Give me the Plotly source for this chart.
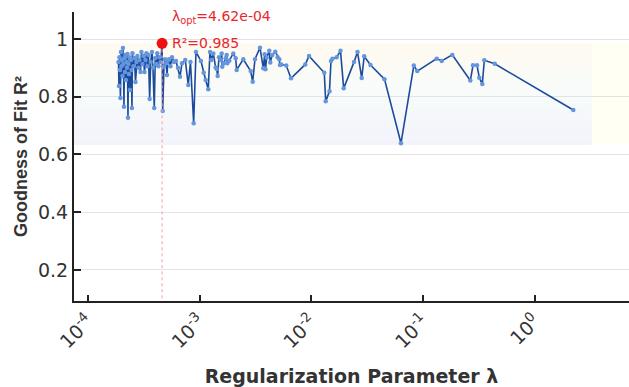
import plotly.graph_objects as go

lam = [1.880e-4, 1.898e-4, 1.918e-4, 1.938e-4, 1.958e-4, 1.978e-4, 1.999e-4, 2.020e-4, 2.041e-4, 2.062e-4,
       2.083e-4, 2.105e-4, 2.127e-4, 2.148e-4, 2.171e-4, 2.193e-4, 2.216e-4, 2.239e-4, 2.262e-4, 2.286e-4,
       2.309e-4, 2.333e-4, 2.357e-4, 2.382e-4, 2.432e-4, 2.457e-4, 2.482e-4, 2.508e-4, 2.560e-4, 2.614e-4,
       2.668e-4, 2.723e-4, 2.780e-4, 2.838e-4, 2.897e-4, 2.958e-4, 3.019e-4, 3.082e-4, 3.146e-4, 3.212e-4,
       3.279e-4, 3.347e-4, 3.417e-4, 3.488e-4, 3.575e-4, 3.649e-4, 3.749e-4, 3.826e-4, 3.930e-4, 4.012e-4,
       4.112e-4, 4.181e-4, 4.286e-4, 4.375e-4, 4.494e-4, 4.620e-4, 4.675e-4, 4.801e-4, 4.901e-4, 5.034e-4,
       5.107e-4, 5.213e-4, 5.322e-4, 5.489e-4, 5.662e-4, 5.900e-4, 6.149e-4, 6.408e-4, 6.678e-4, 6.959e-4,
       7.447e-4, 7.922e-4, 8.289e-4, 8.855e-4, 9.287e-4, 1.029e-3, 1.088e-3, 1.134e-3, 1.196e-3, 1.239e-3,
       1.273e-3, 1.327e-3, 1.394e-3, 1.423e-3, 1.452e-3, 1.492e-3, 1.545e-3, 1.577e-3, 1.597e-3, 1.654e-3,
       1.713e-3, 1.748e-3, 1.770e-3, 1.845e-3, 2.003e-3, 2.105e-3, 2.148e-3, 2.462e-3, 2.868e-3, 2.989e-3,
       3.133e-3, 3.474e-3, 3.718e-3, 3.827e-3, 3.890e-3, 3.988e-3, 4.207e-3, 4.295e-3, 4.477e-3, 4.762e-3,
       5.003e-3, 5.171e-3, 5.246e-3, 5.388e-3, 5.973e-3, 6.580e-3, 8.839e-3, 9.537e-3, 1.307e-2, 1.346e-2,
       1.455e-2, 1.501e-2, 1.548e-2, 1.689e-2, 1.826e-2, 1.950e-2, 2.412e-2, 2.593e-2, 2.827e-2, 2.976e-2,
       3.388e-2, 4.522e-2, 6.355e-2, 8.274e-2, 8.892e-2, 0.1327, 0.1471, 0.1829, 0.2652, 0.2804,
       0.3044, 0.3192, 0.3396, 0.3539, 0.4385, 2.216]

r2 = [0.920, 0.837, 0.937, 0.893, 0.796, 0.955, 0.906, 0.927, 0.872, 0.969,
      0.913, 0.765, 0.934, 0.886, 0.945, 0.858, 0.920, 0.900, 0.948, 0.727,
      0.913, 0.879, 0.937, 0.823, 0.927, 0.893, 0.761, 0.951, 0.906, 0.934,
      0.851, 0.920, 0.941, 0.900, 0.927, 0.886, 0.955, 0.913, 0.941, 0.886,
      0.927, 0.951, 0.906, 0.945, 0.792, 0.920, 0.955, 0.900, 0.761, 0.934,
      0.913, 0.951, 0.906, 0.937, 0.920, 0.985, 0.751, 0.904, 0.930, 0.916,
      0.875, 0.927, 0.930, 0.906, 0.937, 0.920, 0.924, 0.900, 0.869, 0.916,
      0.927, 0.841, 0.920, 0.708, 0.955, 0.924, 0.883, 0.858, 0.826, 0.955,
      0.927, 0.950, 0.901, 0.896, 0.872, 0.937, 0.927, 0.950, 0.904, 0.916,
      0.933, 0.945, 0.916, 0.925, 0.950, 0.933, 0.893, 0.930, 0.889, 0.852,
      0.930, 0.970, 0.899, 0.947, 0.895, 0.935, 0.959, 0.919, 0.945, 0.956,
      0.937, 0.930, 0.910, 0.912, 0.908, 0.864, 0.912, 0.941, 0.883, 0.784,
      0.819, 0.924, 0.932, 0.937, 0.959, 0.829, 0.920, 0.955, 0.865, 0.940,
      0.910, 0.861, 0.639, 0.908, 0.889, 0.932, 0.924, 0.945, 0.856, 0.909,
      0.909, 0.866, 0.844, 0.926, 0.914, 0.754]

lam_opt = 4.62e-4
r2_opt = 0.985

x_tickvals = [1e-4, 1e-3, 1e-2, 1e-1, 1e0]
x_ticktext = ["10<sup>-4</sup>", "10<sup>-3</sup>", "10<sup>-2</sup>", "10<sup>-1</sup>", "10<sup>0</sup>"]
y_tickvals = [0.2, 0.4, 0.6, 0.8, 1.0]
y_ticktext = ["0.2", "0.4", "0.6", "0.8", "1"]

ARIAL = "Arial, 'Liberation Sans', sans-serif"
WIDE = "'DejaVu Sans', Verdana, sans-serif"
y_lo, y_hi = 0.0926, 1.0935
band_lo, band_hi = 0.633, 0.985

fig = go.Figure()

fig.add_trace(go.Scatter(x=lam, y=r2, mode="lines+markers",
                         line=dict(color="#1c4b9c", width=1.6),
                         marker=dict(color="#6396de", size=4.5),
                         showlegend=False, hoverinfo="skip"))
fig.add_trace(go.Scatter(x=[lam_opt, lam_opt], y=[r2_opt, y_lo], mode="lines",
                         line=dict(color="#f4a0a0", width=1, dash="dot"),
                         showlegend=False, hoverinfo="skip"))
fig.add_trace(go.Scatter(x=[lam_opt], y=[r2_opt], mode="markers",
                         marker=dict(color="#ee1111", size=11),
                         showlegend=False, hoverinfo="skip"))

def lerp(c1, c2, t):
    return tuple(round(a + (b - a) * t) for a, b in zip(c1, c2))

top = (255, 250, 240)
mid = (247, 251, 250)
bot = (243, 243, 252)
n = 24
shapes = [dict(type="rect", xref="paper", yref="y", x0=0.933, x1=1.0, y0=band_lo, y1=band_hi,
               fillcolor="#fffff3", line=dict(width=0), layer="below")]
for i in range(n):
    t = i / (n - 1)
    c = lerp(top, mid, t * 2) if t < 0.5 else lerp(mid, bot, (t - 0.5) * 2)
    y1 = band_hi - (band_hi - band_lo) * i / n
    y0 = band_hi - (band_hi - band_lo) * (i + 1) / n
    shapes.append(dict(type="rect", xref="paper", yref="y", x0=0, x1=0.933, y0=y0, y1=y1,
                       fillcolor="rgb(%d,%d,%d)" % c, line=dict(width=0), layer="below"))

fig.update_layout(
    width=629, height=387,
    margin=dict(l=74, r=0, t=12, b=86),
    paper_bgcolor="white", plot_bgcolor="white",
    font=dict(family=WIDE, color="#333333"),
    shapes=shapes,
    xaxis=dict(type="log", range=[-4.124, 0.844],
               tickvals=x_tickvals, ticktext=x_ticktext, tickangle=-45,
               tickfont=dict(size=19, color="#333333", family=WIDE),
               ticks="inside", ticklen=6, tickwidth=2, tickcolor="#222222",
               showline=True, linecolor="#222222", linewidth=2,
               showgrid=False, zeroline=False,
               title=dict(text="<b>Regularization Parameter λ</b>",
                          font=dict(size=19, color="#333333", family=WIDE), standoff=20)),
    yaxis=dict(range=[y_lo, y_hi],
               tickvals=y_tickvals, ticktext=y_ticktext,
               tickfont=dict(size=19, color="#333333", family=WIDE),
               ticks="inside", ticklen=7, tickwidth=2, tickcolor="#222222",
               showline=True, linecolor="#222222", linewidth=2,
               showgrid=True, gridcolor="#e3e3e3", gridwidth=1, zeroline=False,
               title=dict(text="<b>Goodness of Fit R²</b>",
                          font=dict(size=18, color="#333333", family=ARIAL), standoff=6)),
    annotations=[
        dict(x=-3.3354, y=1.076, xref="x", yref="y", xanchor="left", yanchor="middle",
             xshift=8, text="λ<sub>opt</sub>=4.62e-04", showarrow=False,
             font=dict(size=14, color="#e8262b", family=WIDE)),
        dict(x=-3.3354, y=r2_opt, xref="x", yref="y", xanchor="left", yanchor="middle",
             xshift=8, text="R²=0.985", showarrow=False,
             font=dict(size=14, color="#e8262b", family=WIDE)),
    ],
)

fig.write_html("out.html")
